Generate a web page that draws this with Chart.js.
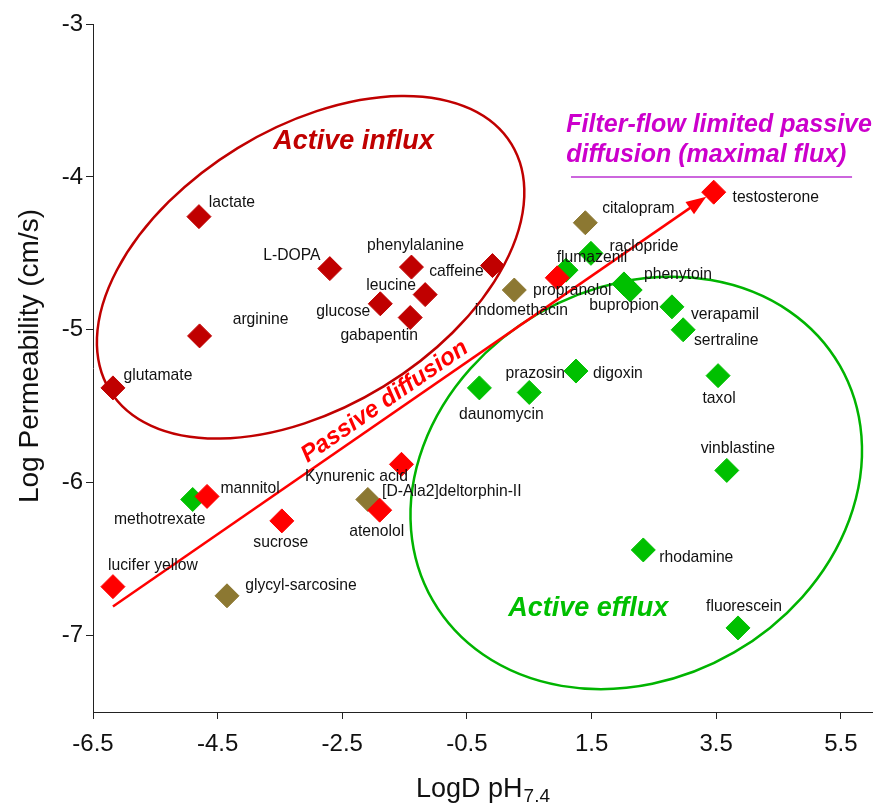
<!DOCTYPE html>
<html><head><meta charset="utf-8">
<script src="https://cdn.jsdelivr.net/npm/chart.js@4.4.1/dist/chart.umd.min.js"></script>
<style>html,body{margin:0;padding:0;background:#fff;}</style>
</head><body>
<canvas id="c" width="876" height="803"></canvas>
<script>
// ---- tick labels ----
const xTicks = [-6.5, -4.5, -2.5, -0.5, 1.5, 3.5, 5.5];
const yTicks = [-7, -6, -5, -4, -3];

// ---- Active influx (dark red) ----
const influxNames = ['lactate','L-DOPA','arginine','glutamate','phenylalanine','leucine','glucose','gabapentin','caffeine'];
const influxLogD  = [-4.80, -2.70, -4.79, -6.18, -1.39, -1.17, -1.89, -1.41, -0.09];
const influxLogP  = [-4.26, -4.60, -5.04, -5.38, -4.59, -4.77, -4.83, -4.92, -4.58];

// ---- Passive diffusion (red) ----
const passiveNames = ['testosterone','propranolol','Kynurenic acid','atenolol','mannitol','sucrose','lucifer yellow'];
const passiveLogD  = [3.46, 0.95, -1.55, -1.90, -4.67, -3.47, -6.18];
const passiveLogP  = [-4.10, -4.66, -5.88, -6.18, -6.09, -6.25, -6.68];

// ---- Other (olive) ----
const otherNames = ['citalopram','indomethacin','[D-Ala2]deltorphin-II','glycyl-sarcosine'];
const otherLogD  = [1.40, 0.26, -2.09, -4.35];
const otherLogP  = [-4.30, -4.74, -6.11, -6.74];

// ---- Active efflux (green) ----
const effluxNames = ['methotrexate','flumazenil','raclopride','phenytoin','bupropion','verapamil','sertraline','digoxin','prazosin','daunomycin','taxol','vinblastine','rhodamine','fluorescein'];
const effluxLogD  = [-4.90, 1.09, 1.49, 2.02, 2.12, 2.79, 2.97, 1.25, 0.50, -0.30, 3.53, 3.67, 2.33, 3.85];
const effluxLogP  = [-6.11, -4.61, -4.50, -4.70, -4.74, -4.85, -5.00, -5.27, -5.41, -5.38, -5.30, -5.92, -6.44, -6.95];

// ---- label placement (pixel offsets of label centre from marker) ----
const labelOffsets = {
  'lactate':[33,-14],'L-DOPA':[-38,-13],'arginine':[61,-16],'glutamate':[45,-12],'phenylalanine':[4,-21],
  'leucine':[-34,-9],'glucose':[-37,8],'gabapentin':[-31,18],'caffeine':[-36,6],
  'testosterone':[62,6],'propranolol':[15,13],'Kynurenic acid':[-45,12],'atenolol':[-3,21],'mannitol':[43,-8],
  'sucrose':[-1,22],'lucifer yellow':[40,-21],
  'citalopram':[53,-14],'indomethacin':[7,21],'[D-Ala2]deltorphin-II':[84,-8],'glycyl-sarcosine':[74,-10],
  'methotrexate':[-33,20],'flumazenil':[26,-12],'raclopride':[53,-7],'phenytoin':[54,-9],'bupropion':[-6,16],
  'verapamil':[53,8],'sertraline':[43,11],'digoxin':[42,3],'prazosin':[6,-19],'daunomycin':[22,27],
  'taxol':[1,23],'vinblastine':[11,-22],'rhodamine':[53,8],'fluorescein':[6,-21]
};

// ---- annotation geometry (data units) ----
const influxRegion = {cx:-3.008, cy:-4.591, rx:3.78, ry:2.243, rot:-31.5, color:'#C00000'};
const effluxRegion = {cx:2.217, cy:-6.002, rx:3.77, ry:3.14, rot:-30, color:'#00B400'};
const arrowFrom = [-6.18, -6.81], arrowTo = [3.34, -4.13];
const fluxLine = {y:-4.0, x1:1.17, x2:5.68};

const FONT = '"Liberation Sans", Arial, Helvetica, sans-serif';

function mk(names, xs, ys){ return names.map((n,i)=>({x:xs[i], y:ys[i], name:n})); }

const overlay = {
  id:'overlay',
  beforeDatasetsDraw(chart){
    const {ctx, scales:{x, y}} = chart;
    const ux = x.getPixelForValue(1) - x.getPixelForValue(0);
    ctx.save();
    for (const e of [influxRegion, effluxRegion]) {
      ctx.beginPath();
      ctx.ellipse(x.getPixelForValue(e.cx), y.getPixelForValue(e.cy), e.rx*ux, e.ry*ux, e.rot*Math.PI/180, 0, Math.PI*2);
      ctx.strokeStyle = e.color; ctx.lineWidth = 2.5; ctx.stroke();
    }
    // arrow
    const x0 = x.getPixelForValue(arrowFrom[0]), y0 = y.getPixelForValue(arrowFrom[1]);
    const x1 = x.getPixelForValue(arrowTo[0]),   y1 = y.getPixelForValue(arrowTo[1]);
    const a = Math.atan2(y1-y0, x1-x0), hl = 20, hw = 7.5;
    ctx.strokeStyle = '#FF0000'; ctx.fillStyle = '#FF0000'; ctx.lineWidth = 2.5;
    ctx.beginPath(); ctx.moveTo(x0, y0);
    ctx.lineTo(x1 - hl*0.8*Math.cos(a), y1 - hl*0.8*Math.sin(a)); ctx.stroke();
    ctx.beginPath(); ctx.moveTo(x1, y1);
    ctx.lineTo(x1 - hl*Math.cos(a) + hw*Math.sin(a), y1 - hl*Math.sin(a) - hw*Math.cos(a));
    ctx.lineTo(x1 - hl*Math.cos(a) - hw*Math.sin(a), y1 - hl*Math.sin(a) + hw*Math.cos(a));
    ctx.closePath(); ctx.fill();
    // filter-flow line
    ctx.strokeStyle = '#CC66DD'; ctx.lineWidth = 2;
    ctx.beginPath();
    ctx.moveTo(x.getPixelForValue(fluxLine.x1), y.getPixelForValue(fluxLine.y));
    ctx.lineTo(x.getPixelForValue(fluxLine.x2), y.getPixelForValue(fluxLine.y));
    ctx.stroke();
    ctx.restore();
  },
  afterDatasetsDraw(chart){
    const {ctx, scales:{x, y}} = chart;
    ctx.save();
    // point labels
    ctx.font = '15.7px ' + FONT; ctx.fillStyle = '#111'; ctx.textAlign = 'center'; ctx.textBaseline = 'middle';
    chart.data.datasets.forEach(ds => ds.data.forEach(p => {
      const o = labelOffsets[p.name] || [0,-20];
      ctx.fillText(p.name, x.getPixelForValue(p.x) + o[0], y.getPixelForValue(p.y) + o[1]);
    }));
    // region texts
    ctx.font = 'italic bold 27px ' + FONT; ctx.textBaseline = 'alphabetic';
    ctx.fillStyle = '#C00000';
    ctx.fillText('Active influx', x.getPixelForValue(-2.32), y.getPixelForValue(-3.82));
    ctx.fillStyle = '#00BF00';
    ctx.fillText('Active efflux', x.getPixelForValue(1.446), y.getPixelForValue(-6.871));
    // passive diffusion rotated along arrow
    const x0 = x.getPixelForValue(arrowFrom[0]), y0 = y.getPixelForValue(arrowFrom[1]);
    const x1 = x.getPixelForValue(arrowTo[0]),   y1 = y.getPixelForValue(arrowTo[1]);
    const a = Math.atan2(y1-y0, x1-x0);
    ctx.save();
    ctx.translate(x.getPixelForValue(-1.82), y.getPixelForValue(-5.47));
    ctx.rotate(a);
    ctx.font = 'italic bold 24px ' + FONT; ctx.fillStyle = '#FF0000'; ctx.textBaseline = 'middle';
    ctx.fillText('Passive diffusion', 0, 0);
    ctx.restore();
    // filter-flow text
    ctx.font = 'italic bold 25px ' + FONT; ctx.fillStyle = '#CC00CC'; ctx.textAlign = 'left'; ctx.textBaseline = 'alphabetic';
    ctx.fillText('Filter-flow limited passive', x.getPixelForValue(1.094), y.getPixelForValue(-3.709));
    ctx.fillText('diffusion (maximal flux)', x.getPixelForValue(1.094), y.getPixelForValue(-3.905));
    // axis titles
    ctx.fillStyle = '#111';
    ctx.font = '28px ' + FONT;
    ctx.save();
    ctx.translate(30, (chart.chartArea.top + chart.chartArea.bottom)/2 - 12);
    ctx.rotate(-Math.PI/2);
    ctx.textAlign = 'center'; ctx.textBaseline = 'middle';
    ctx.fillText('Log Permeability (cm/s)', 0, 0);
    ctx.restore();
    const main = 'LogD pH', sub = '7.4';
    ctx.font = '27px ' + FONT; const wm = ctx.measureText(main).width;
    ctx.font = '19px ' + FONT; const ws = ctx.measureText(sub).width;
    const cx = (chart.chartArea.left + chart.chartArea.right)/2;
    const sx = cx - (wm + ws)/2, by = 797;
    ctx.textAlign = 'left';
    ctx.font = '27px ' + FONT; ctx.fillText(main, sx, by);
    ctx.font = '19px ' + FONT; ctx.fillText(sub, sx + wm + 1, by + 5);
    ctx.restore();
  }
};

const pt = (color) => ({pointStyle:'rectRot', pointRadius:12, pointHoverRadius:12, borderWidth:1,
  backgroundColor:color, borderColor:color, showLine:false});

new Chart(document.getElementById('c'), {
  type:'scatter',
  data:{datasets:[
    Object.assign({label:'Passive diffusion', data:mk(passiveNames, passiveLogD, passiveLogP)}, pt('#FF0000')),
    Object.assign({label:'Active influx', data:mk(influxNames, influxLogD, influxLogP)}, pt('#C00000')),
    Object.assign({label:'Other', data:mk(otherNames, otherLogD, otherLogP)}, pt('#8C7832')),
    Object.assign({label:'Active efflux', data:mk(effluxNames, effluxLogD, effluxLogP)}, pt('#00C000'))
  ]},
  options:{
    responsive:false, animation:false, devicePixelRatio:1, events:[],
    layout:{autoPadding:false, padding:{top:24, right:4, left:0, bottom:0}},
    plugins:{legend:{display:false}, tooltip:{enabled:false}},
    scales:{
      x:{type:'linear', min:-6.5, max:6.0,
        afterBuildTicks:s=>{ s.ticks = xTicks.map(v=>({value:v})); },
        afterFit:s=>{ s.height = 91; s.paddingLeft = 0; s.paddingRight = 0; },
        ticks:{font:{family:FONT, size:24}, color:'#111', padding:11, maxRotation:0, autoSkip:false, callback:v=>String(v)},
        grid:{display:true, drawOnChartArea:false, drawTicks:true, tickLength:7, color:'#222', lineWidth:1},
        border:{display:true, color:'#222', width:1}},
      y:{type:'linear', min:-7.5, max:-3,
        afterBuildTicks:s=>{ s.ticks = yTicks.map(v=>({value:v})); },
        afterFit:s=>{ s.width = 93; s.paddingTop = 0; s.paddingBottom = 0; },
        ticks:{font:{family:FONT, size:24}, color:'#111', padding:3, autoSkip:false, callback:v=>String(v)},
        grid:{display:true, drawOnChartArea:false, drawTicks:true, tickLength:7, color:'#222', lineWidth:1},
        border:{display:true, color:'#222', width:1}}
    }
  },
  plugins:[overlay]
});
</script>
</body></html>
